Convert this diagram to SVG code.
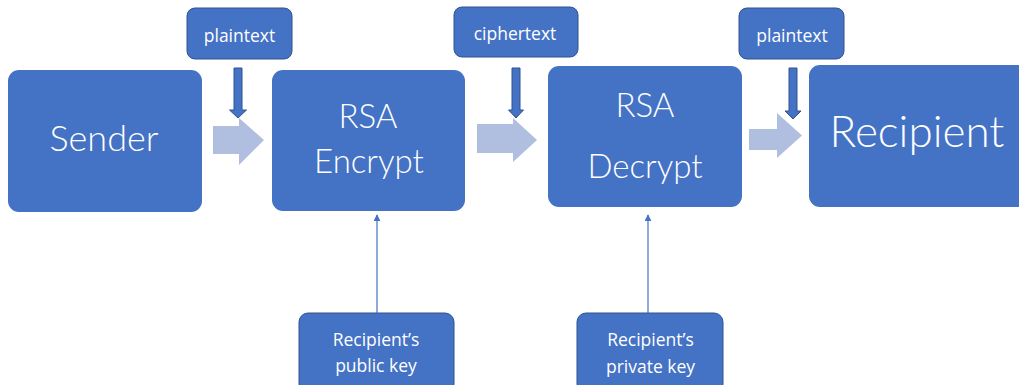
<svg xmlns="http://www.w3.org/2000/svg" width="1019" height="385" viewBox="0 0 1019 385">
<defs>
<style>
.main{fill:#4472C4;}
.lab{fill:#4472C4;stroke:#2F528F;stroke-width:1;}
.big{font-family:"Lato","Noto Sans",sans-serif;font-weight:300;fill:#ffffff;text-anchor:middle;}
.sm{font-family:"Open Sans","Noto Sans",sans-serif;font-weight:400;fill:#ffffff;text-anchor:middle;font-size:17.5px;}
.blk{fill:#B0BEDF;}
.dn{fill:#4472C4;stroke:#2F528F;stroke-width:1;}
.thin{stroke:#4472C4;stroke-width:1.2;fill:none;}
</style>
<marker id="ah" viewBox="0 0 10 10" refX="9" refY="5" markerWidth="7" markerHeight="7" orient="auto" markerUnits="userSpaceOnUse">
<path d="M0,0 L10,5 L0,10 z" fill="#4472C4"/>
</marker>
</defs>
<rect width="1019" height="385" fill="#ffffff"/>

<g id="sender"><rect class="main" x="8" y="70" width="194" height="142" rx="11"/><text class="big" x="104" y="151" font-size="36">Sender</text></g>
<g id="encrypt"><rect class="main" x="272" y="70" width="193" height="141" rx="11"/><text class="big" x="368" y="128" font-size="33">RSA</text><text class="big" x="369" y="173" font-size="33">Encrypt</text></g>
<g id="decrypt"><rect class="main" x="548" y="66" width="194" height="141" rx="11"/><text class="big" x="645" y="117" font-size="33">RSA</text><text class="big" x="645" y="178" font-size="33">Decrypt</text></g>
<g id="recipient"><rect class="main" x="809" y="65" width="225" height="142" rx="11"/><text class="big" x="917" y="147" font-size="44">Recipient</text></g>

<g id="plaintext1"><rect class="lab" x="187" y="8" width="105" height="51" rx="8"/><text class="sm" x="239.5" y="42">plaintext</text></g>
<g id="ciphertext"><rect class="lab" x="454" y="7" width="124" height="50" rx="8"/><text class="sm" x="515" y="40">ciphertext</text></g>
<g id="plaintext2"><rect class="lab" x="739" y="8" width="105" height="51" rx="8"/><text class="sm" x="792" y="42">plaintext</text></g>
<g id="pubkey"><rect class="lab" x="299" y="313" width="155" height="80" rx="9"/><text class="sm" x="376" y="346">Recipient’s</text><text class="sm" x="376" y="372">public key</text></g>
<g id="privkey"><rect class="lab" x="577" y="313" width="146" height="80" rx="9"/><text class="sm" x="650.5" y="346">Recipient’s</text><text class="sm" x="650.5" y="373">private key</text></g>

<g id="connectors">
<path class="blk" d="M213,126 H239 V118 L264,140 L239,165 V154 H213 z"/>
<path class="blk" d="M477,124 H513 V118 L537,140 L513,162 V153 H477 z"/>
<path class="blk" d="M749,129 H777 V113 L802,135.5 L777,158 V150 H749 z"/>
<path class="dn" d="M234,68 H242 V110 H246.5 L238,118 L229.5,110 H234 z"/>
<path class="dn" d="M512,68 H520 V110 H523.5 L516,118 L508.5,110 H512 z"/>
<path class="dn" d="M789,68 H797 V111 H801 L793,119 L785,111 H789 z"/>
<line class="thin" x1="377" y1="313" x2="377" y2="215" marker-end="url(#ah)"/>
<line class="thin" x1="648" y1="313" x2="648" y2="215" marker-end="url(#ah)"/>
</g>
</svg>
